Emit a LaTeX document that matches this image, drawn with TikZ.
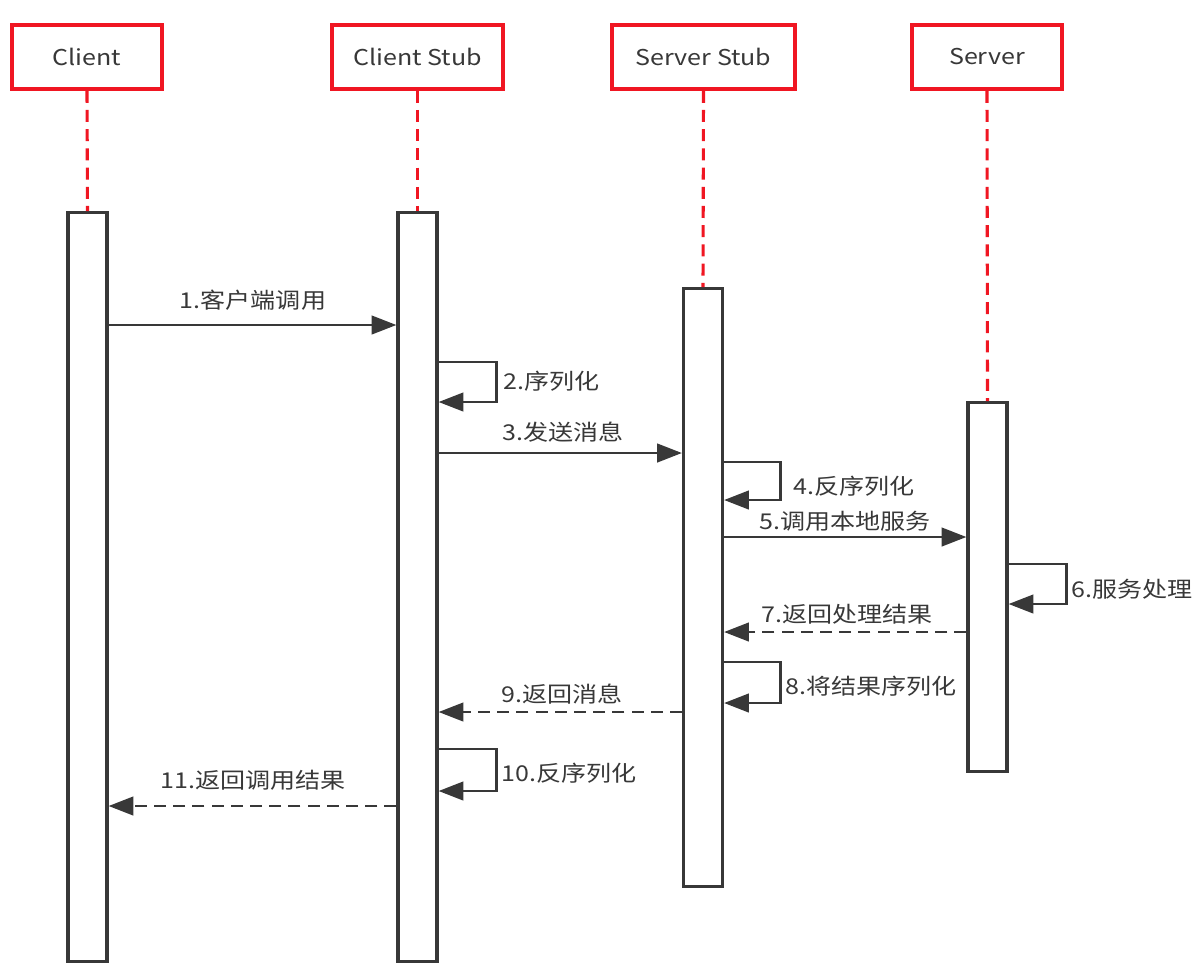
\documentclass[tikz,border=0pt]{standalone}
\usepackage{fontspec}
\newfontfamily\cjk[FakeStretch=1.15]{Noto Sans CJK SC}
\usepackage{tikz}
\usetikzlibrary{arrows.meta}
\usepackage{xcolor}
\definecolor{seqred}{RGB}{240,22,34}
\definecolor{seqgray}{RGB}{56,56,56}
\newcommand{\pxu}{0.025cm}

\begin{document}
\begin{tikzpicture}[x=\pxu, y=-\pxu,
  every node/.style={font=\cjk\fontsize{15.5}{18}\selectfont, text=seqgray},
  head/.style={draw=seqred, line width=2.5pt, fill=white, inner sep=0pt, minimum height={64*\pxu}},
  bar/.style={draw=seqgray, line width=2.2pt, fill=white, inner sep=0pt, anchor=north, minimum width={39*\pxu}},
  life/.style={seqred, line width=2.2pt, dash pattern=on 0.3cm off 0.18cm},
  msg/.style={seqgray, line width=2.1pt, -{Triangle[length=0.62cm, width=0.46cm]}},
  ret/.style={msg, dash pattern=on 0.3cm off 0.18cm},
  lbl/.style={inner sep=0pt}]
  \useasboundingbox (0,0) rectangle (1202,969);
  % participants
  \node[head, minimum width={150*\pxu}] (h1) at (87,57) {Client};
  \node[head, minimum width={171*\pxu}] (h2) at (417.5,57) {Client Stub};
  \node[head, minimum width={183*\pxu}] (h3) at (703.5,57) {Server Stub};
  \node[head, minimum width={150*\pxu}] (h4) at (987,57) {Server};
  % activations
  \node[bar, minimum height={749*\pxu}] (b1) at (87.5,211) {};
  \node[bar, minimum height={749*\pxu}] (b2) at (417.5,211) {};
  \node[bar, minimum height={598*\pxu}] (b3) at (703,287) {};
  \node[bar, minimum height={369*\pxu}] (b4) at (987.5,401) {};
  \foreach \i in {1,...,4} {\draw[life] (h\i.south) -- (b\i.north);}
  % calls
  \draw[msg] (b1.east |- 0,325) -- (b2.west |- 0,325);
  \node[lbl] (l1) at (253,300) {1.客户端调用};
  \draw[msg] (b2.east |- 0,362) -- ++(58,0) |- (b2.east |- 0,402);
  \node[lbl, anchor=west] (l2) at (503,381) {2.序列化};
  \draw[msg] (b2.east |- 0,453) -- (b3.west |- 0,453);
  \node[lbl] (l3) at (563,432) {3.发送消息};
  \draw[msg] (b3.east |- 0,462) -- ++(56,0) |- (b3.east |- 0,500);
  \node[lbl, anchor=west] (l4) at (793,486) {4.反序列化};
  \draw[msg] (b3.east |- 0,537) -- (b4.west |- 0,537);
  \node[lbl] (l5) at (845,521) {5.调用本地服务};
  \draw[msg] (b4.east |- 0,564) -- ++(58,0) |- (b4.east |- 0,604);
  \node[lbl, anchor=west] (l6) at (1071,589) {6.服务处理};
  % returns
  \draw[ret] (b4.west |- 0,632) -- (b3.east |- 0,632);
  \node[lbl] (l7) at (847,614) {7.返回处理结果};
  \draw[msg] (b3.east |- 0,662) -- ++(56,0) |- (b3.east |- 0,703);
  \node[lbl, anchor=west] (l8) at (785,686) {8.将结果序列化};
  \draw[ret] (b3.west |- 0,712) -- (b2.east |- 0,712);
  \node[lbl] (l9) at (562,694) {9.返回消息};
  \draw[msg] (b2.east |- 0,749) -- ++(58,0) |- (b2.east |- 0,791);
  \node[lbl, anchor=west] (l10) at (501,773) {10.反序列化};
  \draw[ret] (b2.west |- 0,806) -- (b1.east |- 0,806);
  \node[lbl] (l11) at (253,780) {11.返回调用结果};
\end{tikzpicture}
\end{document}
